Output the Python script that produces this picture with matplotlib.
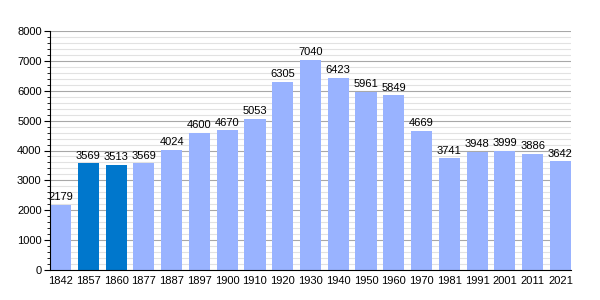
import matplotlib

matplotlib.use("Agg")
import matplotlib.pyplot as plt
from matplotlib.ticker import MultipleLocator

# Population by census year
anos = ["1842", "1857", "1860", "1877", "1887", "1897", "1900", "1910", "1920", "1930",
        "1940", "1950", "1960", "1970", "1981", "1991", "2001", "2011", "2021"]
populacao = [2179, 3569, 3513, 3569, 4024, 4600, 4670, 5053, 6305, 7040,
             6423, 5961, 5849, 4669, 3741, 3948, 3999, 3886, 3642]
destaque = ["1857", "1860"]

COR_BARRA = "#99b3ff"
COR_DESTAQUE = "#0077cc"

plt.rcParams["font.family"] = ["Liberation Sans", "DejaVu Sans"]

fig = plt.figure(figsize=(6, 3), dpi=100)
ax = fig.add_axes([50 / 600, 30 / 300, 521 / 600, 239 / 300])

largura = 0.76
x = list(range(len(anos)))
cores = [COR_DESTAQUE if a in destaque else COR_BARRA for a in anos]
ax.bar(x, populacao, width=largura, color=cores, zorder=3)

for xi, v in zip(x, populacao):
    ax.text(xi, v + 90, str(v), ha="center", va="bottom", fontsize=8, zorder=4)

ax.set_xlim(-largura / 2, len(anos) - 1 + largura / 2)
ax.set_ylim(0, 8000)
ax.set_xticks(x)
ax.set_xticklabels(anos, fontsize=8)
ax.tick_params(axis="x", length=0, pad=4)
ax.yaxis.set_major_locator(MultipleLocator(1000))
ax.yaxis.set_minor_locator(MultipleLocator(200))
ax.tick_params(axis="y", which="major", length=4, labelsize=8, pad=2)
ax.tick_params(axis="y", which="minor", length=2)
ax.grid(axis="y", which="major", color="#a8a8a8", linewidth=0.8, zorder=0)
ax.grid(axis="y", which="minor", color="#e2e2e2", linewidth=0.8, zorder=0)
for lado in ("top", "right"):
    ax.spines[lado].set_visible(False)
ax.spines["left"].set_zorder(5)
ax.spines["bottom"].set_zorder(5)

fig.savefig("out.png", dpi=100, facecolor="white")
